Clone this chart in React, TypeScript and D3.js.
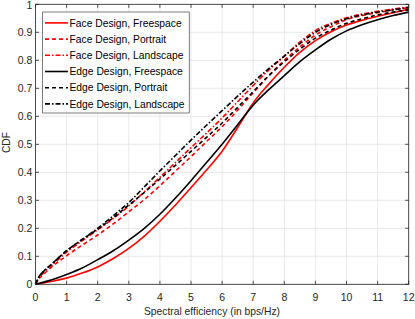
import React from "react";
import * as d3 from "d3";

const seriesNames = [
  "Face Design, Freespace",
  "Face Design, Portrait",
  "Face Design, Landscape",
  "Edge Design, Freespace",
  "Edge Design, Portrait",
  "Edge Design, Landscape",
];
const seriesColors = ["#ff0000", "#ff0000", "#ff0000", "#000000", "#000000", "#000000"];
const seriesDash = ["", "4,3", "5,2,1.5,2", "", "4,3", "5,2,1.5,2"];

const faceFreespace: [number, number][] = [
  [0, 0], [0.5, 0.01], [1, 0.022], [1.5, 0.04], [2, 0.062], [2.5, 0.092], [3, 0.128], [3.5, 0.172], [4, 0.225],
  [4.5, 0.283], [5, 0.345], [5.5, 0.408], [6, 0.475], [6.5, 0.56], [7, 0.648], [7.5, 0.715], [8, 0.775],
  [8.5, 0.828], [9, 0.87], [9.5, 0.902], [10, 0.926], [10.5, 0.943], [11, 0.957], [11.5, 0.97], [12, 0.982],
];
const facePortrait: [number, number][] = [
  [0, 0], [0.1, 0.018], [0.25, 0.035], [0.5, 0.06], [1, 0.102], [1.5, 0.14], [2, 0.176], [2.5, 0.216], [3, 0.259],
  [3.5, 0.303], [4, 0.352], [4.5, 0.404], [5, 0.456], [5.5, 0.51], [6, 0.563], [6.5, 0.622], [7, 0.684], [7.5, 0.745],
  [8, 0.8], [8.5, 0.848], [9, 0.89], [9.5, 0.92], [10, 0.945], [10.5, 0.96], [11, 0.97], [11.5, 0.98], [12, 0.988],
];
const faceLandscape: [number, number][] = [
  [0, 0], [0.1, 0.02], [0.25, 0.04], [0.5, 0.065], [1, 0.115], [1.5, 0.155], [2, 0.195], [2.5, 0.235], [3, 0.28],
  [3.5, 0.33], [4, 0.382], [4.5, 0.435], [5, 0.488], [5.5, 0.54], [6, 0.594], [6.5, 0.652], [7, 0.71], [7.5, 0.765],
  [8, 0.815], [8.5, 0.865], [9, 0.906], [9.5, 0.932], [10, 0.952], [10.5, 0.965], [11, 0.975], [11.5, 0.983], [12, 0.99],
];
const edgeFreespace: [number, number][] = [
  [0, 0], [0.5, 0.015], [1, 0.035], [1.5, 0.058], [2, 0.088], [2.5, 0.12], [3, 0.158], [3.5, 0.2], [4, 0.25],
  [4.5, 0.308], [5, 0.37], [5.5, 0.435], [6, 0.5], [6.5, 0.57], [7, 0.64], [7.5, 0.695], [8, 0.745],
  [8.5, 0.795], [9, 0.837], [9.5, 0.875], [10, 0.905], [10.5, 0.927], [11, 0.945], [11.5, 0.96], [12, 0.972],
];
const edgePortrait: [number, number][] = [
  [0, 0], [0.1, 0.025], [0.25, 0.045], [0.5, 0.07], [1, 0.12], [1.5, 0.16], [2, 0.197], [2.5, 0.238], [3, 0.283],
  [3.5, 0.328], [4, 0.376], [4.5, 0.425], [5, 0.475], [5.5, 0.525], [6, 0.576], [6.5, 0.632], [7, 0.688], [7.5, 0.745],
  [8, 0.795], [8.5, 0.84], [9, 0.879], [9.5, 0.908], [10, 0.932], [10.5, 0.948], [11, 0.962], [11.5, 0.972], [12, 0.98],
];
const edgeLandscape: [number, number][] = [
  [0, 0], [0.1, 0.025], [0.25, 0.045], [0.5, 0.07], [1, 0.12], [1.5, 0.16], [2, 0.2], [2.5, 0.245], [3, 0.292],
  [3.5, 0.348], [4, 0.405], [4.5, 0.46], [5, 0.515], [5.5, 0.568], [6, 0.62], [6.5, 0.672], [7, 0.722], [7.5, 0.77],
  [8, 0.815], [8.5, 0.86], [9, 0.9], [9.5, 0.928], [10, 0.948], [10.5, 0.962], [11, 0.972], [11.5, 0.98], [12, 0.988],
];
const seriesData = [faceFreespace, facePortrait, faceLandscape, edgeFreespace, edgePortrait, edgeLandscape];

const xTicks = [0, 1, 2, 3, 4, 5, 6, 7, 8, 9, 10, 11, 12];
const yTicks = [0, 0.1, 0.2, 0.3, 0.4, 0.5, 0.6, 0.7, 0.8, 0.9, 1];
const xLabel = "Spectral efficiency (in bps/Hz)";
const yLabel = "CDF";

const W = 415;
const H = 319;
const L = 35.5, R = 408.7, T = 4.3, B = 284.3;
const FONT = "'Liberation Sans', Arial, sans-serif";
const AX = "#262626";

export default function App() {
  const x = d3.scaleLinear().domain([0, 12]).range([L, R]);
  const y = d3.scaleLinear().domain([0, 1]).range([B, T]);
  const line = d3.line<[number, number]>().x((d) => x(d[0])).y((d) => y(d[1])).curve(d3.curveMonotoneX);
  const tl = 3.5;
  const legX = 42.7, legY = 12, legW = 146.5, legH = 101;
  const rowY0 = 22.9, rowDy = 16.2;

  return (
    <svg width={W} height={H} style={{ position: "fixed", left: 0, top: 0, background: "#fff" }} fontFamily={FONT}>
      <rect x={0} y={0} width={W} height={H} fill="#fff" />
      <rect x={L} y={T} width={R - L} height={B - T} fill="#fff" />
      {xTicks.map((t) => (
        <line key={"gx" + t} x1={x(t)} x2={x(t)} y1={T} y2={B} stroke="#dfdfdf" strokeWidth={0.7} />
      ))}
      {yTicks.map((t) => (
        <line key={"gy" + t} x1={L} x2={R} y1={y(t)} y2={y(t)} stroke="#dfdfdf" strokeWidth={0.7} />
      ))}
      {seriesData.map((d, i) => (
        <path key={"s" + i} d={line(d) || ""} fill="none" stroke={seriesColors[i]} strokeWidth={1.6}
          strokeDasharray={seriesDash[i]} />
      ))}
      <rect x={L} y={T} width={R - L} height={B - T} fill="none" stroke={AX} strokeWidth={0.8} />
      {xTicks.map((t) => (
        <g key={"tx" + t}>
          <line x1={x(t)} x2={x(t)} y1={B} y2={B - tl} stroke={AX} strokeWidth={0.8} />
          <line x1={x(t)} x2={x(t)} y1={T} y2={T + tl} stroke={AX} strokeWidth={0.8} />
          <text x={x(t)} y={300.5} fontSize={10.5} textAnchor="middle" fill={AX}>{t}</text>
        </g>
      ))}
      {yTicks.map((t) => (
        <g key={"ty" + t}>
          <line x1={L} x2={L + tl} y1={y(t)} y2={y(t)} stroke={AX} strokeWidth={0.8} />
          <line x1={R} x2={R - tl} y1={y(t)} y2={y(t)} stroke={AX} strokeWidth={0.8} />
          <text x={32.3} y={y(t) + 3.7 + (t === 1 ? 0.6 : 0)} fontSize={10.5} textAnchor="end" fill={AX}>{t}</text>
        </g>
      ))}
      <text x={212} y={315} fontSize={10.3} textAnchor="middle" fill={AX}>{xLabel}</text>
      <text transform={`translate(9.5,${142.5}) rotate(-90)`} fontSize={10.3} textAnchor="middle" fill={AX}>{yLabel}</text>
      <rect x={legX} y={legY} width={legW} height={legH} fill="#fff" stroke={AX} strokeWidth={0.6} />
      {seriesNames.map((n, i) => {
        const ry = rowY0 + i * rowDy;
        return (
          <g key={"lg" + i}>
            <line x1={45} x2={68} y1={ry} y2={ry} stroke={seriesColors[i]} strokeWidth={1.6} strokeDasharray={seriesDash[i]} />
            <text x={69.5} y={ry + 3.7} fontSize={10.3} fill="#000">{n}</text>
          </g>
        );
      })}
    </svg>
  );
}
